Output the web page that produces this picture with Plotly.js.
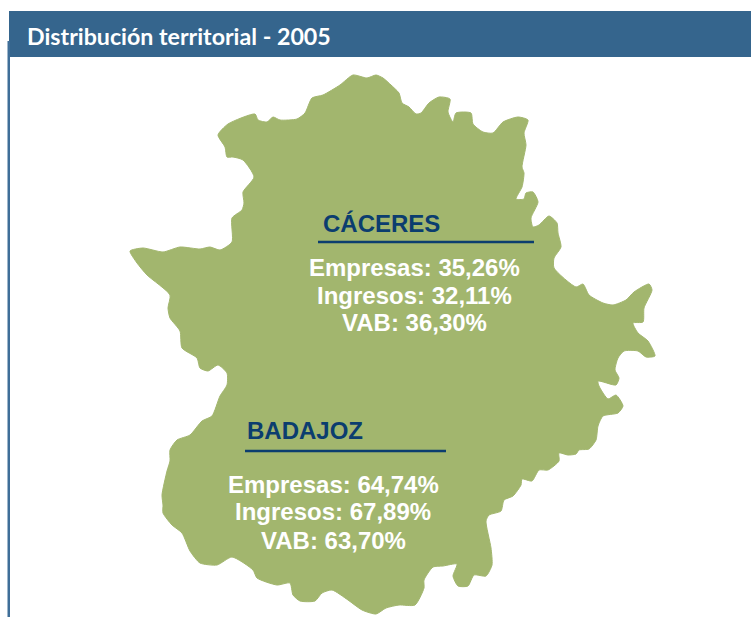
<!DOCTYPE html>
<html><head><meta charset="utf-8">
<script src="https://cdn.plot.ly/plotly-3.0.1.min.js"></script>
<style>html,body{margin:0;padding:0;background:#fff}#c{width:751px;height:617px}</style>
</head><body><div id="c"></div>
<script>
const titleText = "Distribución territorial - 2005";
const provinces = ["CÁCERES", "BADAJOZ"];
const metrics = ["Empresas", "Ingresos", "VAB"];
const caceresValues = ["35,26%", "32,11%", "36,30%"];
const badajozValues = ["64,74%", "67,89%", "63,70%"];
const outlineX = [353,367,376,383,391,399,402,409,416,421,429,439,450,448,453,456,471,473,483,493,503,518,528,524,526,522,524,522,516,524,526,533,538,531,533,539,549,557,558,561,554,554,576,583,589,603,613,626,634,649,652,644,643,633,638,648,655,646,638,624,618,615,619,616,598,599,608,616,623,618,603,598,596,589,579,576,568,559,559,548,539,532,522,521,513,504,501,489,486,491,492,486,474,468,458,453,457,443,433,424,424,415,399,386,376,362,348,332,322,315,300,293,290,277,257,253,232,217,200,190,182,172,163,163,162,167,170,170,177,190,202,212,220,227,227,218,208,200,197,182,180,170,168,170,147,137,130,143,163,180,200,210,220,232,232,242,244,243,254,243,233,227,225,218,228,255,258,267,273,280,297,305,312,323,340,353];
const outlineY = [75,78,75,78,85,93,103,107,114,113,103,97,99,112,122,113,113,124,132,133,122,117,120,133,145,167,173,187,199,199,193,192,202,218,227,225,216,223,233,247,258,268,287,284,295,303,305,300,292,284,290,308,322,323,333,341,356,357,351,351,358,370,378,385,381,386,399,395,406,413,416,426,440,449,450,454,455,453,461,470,470,481,479,485,496,500,511,515,521,548,565,576,575,586,586,576,564,566,567,580,588,605,605,608,614,610,600,590,593,601,601,595,583,585,578,570,557,565,563,551,533,525,513,505,495,471,461,450,440,435,421,416,396,385,373,365,371,368,358,348,331,318,308,295,275,263,251,248,252,247,249,247,250,242,218,210,203,192,177,160,157,157,147,135,124,114,120,122,117,120,119,113,98,95,85,75];

const headColor = "#0B3D6F";
const statFont = {family:"Liberation Sans, Arial, sans-serif", size:24, color:"#ffffff", weight:700};
const headFont = {family:"Liberation Sans, Arial, sans-serif", size:24, color:headColor, weight:700};

function stat(i, vals, x, y){
  return {x:x, y:y, xref:"x", yref:"y", xanchor:"center", yanchor:"middle", showarrow:false,
          text:"<b>"+metrics[i]+": "+vals[i]+"</b>", font:statFont};
}
const annotations = [
  {x:25,y:36,xref:"x",yref:"y",xanchor:"left",yanchor:"middle",showarrow:false,text:titleText,
   font:{family:"Lato, sans-serif",size:23.2,color:"#ffffff",weight:700}},
  {x:321,y:223,xref:"x",yref:"y",xanchor:"left",yanchor:"middle",showarrow:false,text:"<b>"+provinces[0]+"</b>",font:headFont},
  {x:245,y:430,xref:"x",yref:"y",xanchor:"left",yanchor:"middle",showarrow:false,text:"<b>"+provinces[1]+"</b>",font:headFont},
  stat(0,caceresValues,414,267), stat(1,caceresValues,414,295), stat(2,caceresValues,414,322),
  stat(0,badajozValues,333,484), stat(1,badajozValues,333,511), stat(2,badajozValues,333,540)
];
const shapes = [
  {type:"rect",xref:"x",yref:"y",x0:9,x1:751,y0:11,y1:57,fillcolor:"#35658D",line:{width:0},layer:"below"},
  {type:"rect",xref:"x",yref:"y",x0:7.5,x1:10,y0:41,y1:617,fillcolor:"#3F6E98",line:{width:0},layer:"below"},
  {type:"line",xref:"x",yref:"y",x0:318,x1:534,y0:242,y1:242,line:{color:headColor,width:2.5},layer:"above"},
  {type:"line",xref:"x",yref:"y",x0:245,x1:446,y0:451,y1:451,line:{color:headColor,width:2.5},layer:"above"}
];
Plotly.newPlot("c",[{
  type:"scatter",mode:"lines",x:outlineX,y:outlineY,fill:"toself",fillcolor:"#A2B66E",
  line:{color:"#A2B66E",width:1,shape:"spline",smoothing:0.6},hoverinfo:"skip",showlegend:false
}],{
  width:751,height:617,margin:{l:0,r:0,t:0,b:0},paper_bgcolor:"#fff",plot_bgcolor:"#fff",showlegend:false,
  xaxis:{range:[0,751],visible:false,fixedrange:true},
  yaxis:{range:[617,0],visible:false,fixedrange:true},
  shapes:shapes,annotations:annotations
},{displayModeBar:false,staticPlot:true});
</script></body></html>
